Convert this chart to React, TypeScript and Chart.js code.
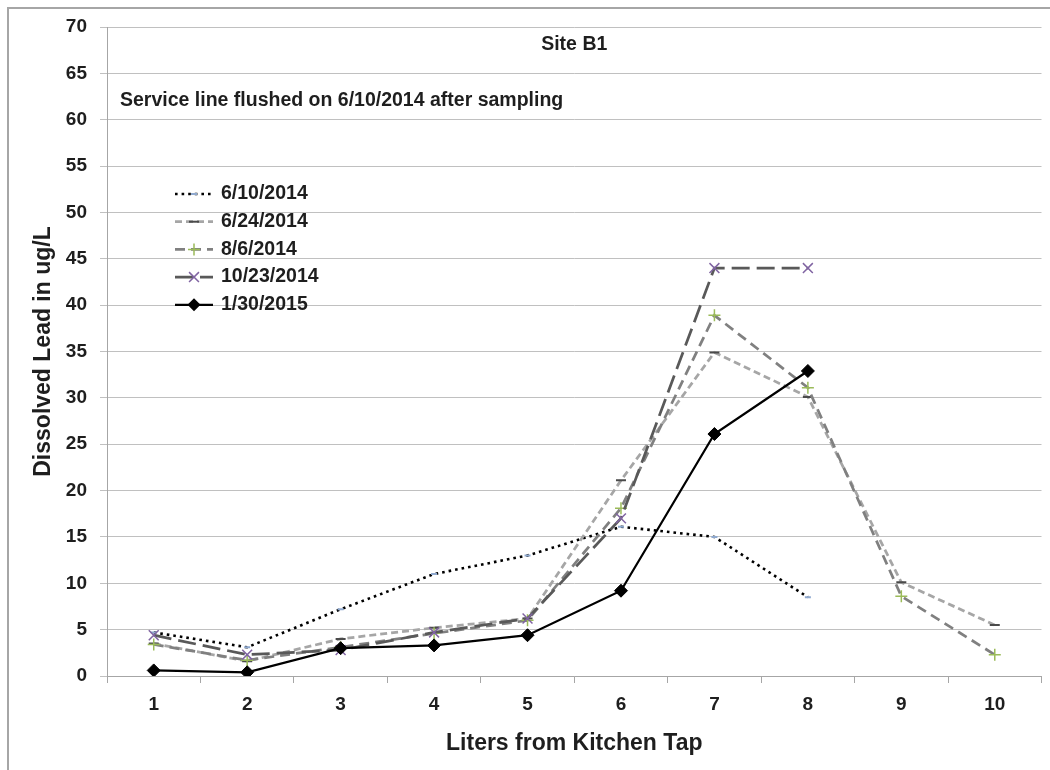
import React, { useEffect, useRef } from "react";
import { Chart, registerables } from "chart.js";

Chart.register(...registerables);

const categories = ["1", "2", "3", "4", "5", "6", "7", "8", "9", "10"];
const seriesNames = ["6/10/2014", "6/24/2014", "8/6/2014", "10/23/2014", "1/30/2015"];
const lead_20140610 = [4.7, 3.1, 7.2, 11.0, 13.0, 16.1, 15.0, 8.5, null, null];
const lead_20140624 = [3.5, 1.6, 4.0, 5.2, 6.2, 21.1, 34.9, 30.1, 10.1, 5.5];
const lead_20140806 = [3.4, 1.7, 3.1, 4.6, 6.0, 18.1, 38.9, 31.1, 8.6, 2.3];
const lead_20141023 = [4.4, 2.3, 2.8, 4.7, 6.2, 17.0, 44.0, 44.0, null, null];
const lead_20150130 = [0.6, 0.4, 3.0, 3.3, 4.4, 9.2, 26.1, 32.9, null, null];
const yMin = 0;
const yMax = 70;
const yStep = 5;

const chartTitle = "Site B1";
const annotationText = "Service line flushed on 6/10/2014 after sampling";
const xTitle = "Liters from Kitchen Tap";
const yTitle = "Dissolved Lead in ug/L";

const FONT = '"Liberation Sans", Arial, sans-serif';
const TEXT = "#1e1e1e";

type Style = {
  color: string;
  width: number;
  dash: number[];
  point: string;
  pointColor: string;
  radius: number;
  pointWidth: number;
};

const styles: Style[] = [
  { color: "#000000", width: 2.6, dash: [2.6, 4], point: "line", pointColor: "#8fa9cf", radius: 3, pointWidth: 2 },
  { color: "#a6a6a6", width: 2.75, dash: [7, 4], point: "line", pointColor: "#4a4a4a", radius: 5, pointWidth: 2 },
  { color: "#808080", width: 2.75, dash: [10, 6], point: "cross", pointColor: "#9bbb59", radius: 6, pointWidth: 1.5 },
  { color: "#595959", width: 2.75, dash: [18, 7], point: "crossRot", pointColor: "#8064a2", radius: 7, pointWidth: 1.5 },
  { color: "#000000", width: 2.25, dash: [], point: "rectRot", pointColor: "#000000", radius: 6.5, pointWidth: 1 },
];

const seriesValues = [lead_20140610, lead_20140624, lead_20140806, lead_20141023, lead_20150130];

function drawMarker(ctx: CanvasRenderingContext2D, s: Style, x: number, y: number) {
  const r = s.radius;
  ctx.save();
  ctx.setLineDash([]);
  ctx.strokeStyle = s.pointColor;
  ctx.fillStyle = s.pointColor;
  ctx.lineWidth = s.pointWidth;
  ctx.beginPath();
  if (s.point === "line") {
    ctx.moveTo(x - r, y);
    ctx.lineTo(x + r, y);
    ctx.stroke();
  } else if (s.point === "cross") {
    ctx.moveTo(x - r, y);
    ctx.lineTo(x + r, y);
    ctx.moveTo(x, y - r);
    ctx.lineTo(x, y + r);
    ctx.stroke();
  } else if (s.point === "crossRot") {
    const d = r * Math.SQRT1_2;
    ctx.moveTo(x - d, y - d);
    ctx.lineTo(x + d, y + d);
    ctx.moveTo(x + d, y - d);
    ctx.lineTo(x - d, y + d);
    ctx.stroke();
  } else if (s.point === "rectRot") {
    ctx.moveTo(x, y - r);
    ctx.lineTo(x + r, y);
    ctx.lineTo(x, y + r);
    ctx.lineTo(x - r, y);
    ctx.closePath();
    ctx.fill();
  }
  ctx.restore();
}

const overlayPlugin = {
  id: "overlay",
  beforeDraw(chart: any) {
    const ctx = chart.ctx as CanvasRenderingContext2D;
    ctx.save();
    ctx.fillStyle = "#ffffff";
    ctx.fillRect(0, 0, chart.width, chart.height);
    ctx.strokeStyle = "#a6a6a6";
    ctx.lineWidth = 2;
    ctx.beginPath();
    ctx.moveTo(8, chart.height);
    ctx.lineTo(8, 8);
    ctx.lineTo(chart.width, 8);
    ctx.stroke();
    ctx.restore();
  },
  afterDraw(chart: any) {
    const ctx = chart.ctx as CanvasRenderingContext2D;
    const a = chart.chartArea;
    ctx.save();
    ctx.fillStyle = TEXT;
    ctx.textBaseline = "middle";
    ctx.textAlign = "center";
    ctx.font = `bold 19.5px ${FONT}`;
    ctx.fillText(chartTitle, (a.left + a.right) / 2, a.top + 18);
    ctx.textAlign = "left";
    ctx.font = `bold 19.5px ${FONT}`;
    ctx.fillText(annotationText, a.left + 13, a.top + 74);

    ctx.font = `bold 19.5px ${FONT}`;
    const x0 = a.left + 68;
    const x1 = a.left + 106;
    const legendTop = a.top + 167;
    const rowGap = 27.7;
    seriesNames.forEach((name, i) => {
      const s = styles[i];
      const y = legendTop + i * rowGap;
      ctx.save();
      ctx.strokeStyle = s.color;
      ctx.lineWidth = s.width;
      ctx.setLineDash(s.dash);
      ctx.beginPath();
      ctx.moveTo(x0, y);
      ctx.lineTo(x1, y);
      ctx.stroke();
      ctx.restore();
      drawMarker(ctx, s, (x0 + x1) / 2, y);
      ctx.fillStyle = TEXT;
      ctx.fillText(name, x1 + 8, y);
    });
    ctx.restore();
  },
};

export default function App() {
  const ref = useRef<HTMLCanvasElement | null>(null);

  useEffect(() => {
    if (!ref.current) return;
    const datasets = seriesNames.map((name, i) => {
      const s = styles[i];
      return {
        label: name,
        data: seriesValues[i],
        borderColor: s.color,
        backgroundColor: s.pointColor,
        borderWidth: s.width,
        borderDash: s.dash,
        pointStyle: s.point,
        pointRadius: s.radius,
        pointBorderColor: s.pointColor,
        pointBackgroundColor: s.pointColor,
        pointBorderWidth: s.pointWidth,
        spanGaps: false,
        tension: 0,
        fill: false,
        order: seriesNames.length - 1 - i,
      };
    });

    const chart = new Chart(ref.current, {
      type: "line",
      data: { labels: categories, datasets: datasets as any },
      plugins: [overlayPlugin],
      options: {
        animation: false,
        responsive: false,
        layout: { padding: { left: 0, top: 27, right: 4, bottom: 0 } },
        plugins: {
          legend: { display: false },
          title: { display: false },
          tooltip: { enabled: false },
        },
        scales: {
          x: {
            type: "category",
            offset: true,
            grid: {
              offset: true,
              drawOnChartArea: false,
              drawTicks: true,
              tickLength: 7,
              color: "#a6a6a6",
            },
            border: { color: "#a6a6a6", width: 1 },
            ticks: {
              color: TEXT,
              font: { family: FONT, size: 19, weight: "bold" },
              padding: 10,
              maxRotation: 0,
            },
            title: {
              display: true,
              text: xTitle,
              color: TEXT,
              font: { family: FONT, size: 23, weight: "bold" },
              padding: { top: 0, bottom: 13 },
            },
            afterFit: (scale: any) => {
              scale.height = 94;
            },
          },
          y: {
            min: yMin,
            max: yMax,
            grid: {
              color: "#c0c0c0",
              lineWidth: 1,
              drawTicks: true,
              tickLength: 7,
            },
            border: { color: "#a6a6a6", width: 1 },
            ticks: {
              stepSize: yStep,
              color: TEXT,
              font: { family: FONT, size: 19, weight: "bold" },
              padding: 13,
            },
            title: {
              display: true,
              text: yTitle,
              color: TEXT,
              font: { family: FONT, size: 23, weight: "bold" },
              padding: { top: 30, bottom: 0 },
            },
            afterFit: (scale: any) => {
              scale.width = 107;
            },
          },
        },
      } as any,
    });
    return () => chart.destroy();
  }, []);

  return (
    <div style={{ position: "fixed", left: 0, top: 0, width: 1050, height: 770, background: "#fff" }}>
      <canvas ref={ref} width={1050} height={770} style={{ display: "block", width: 1050, height: 770 }} />
    </div>
  );
}
